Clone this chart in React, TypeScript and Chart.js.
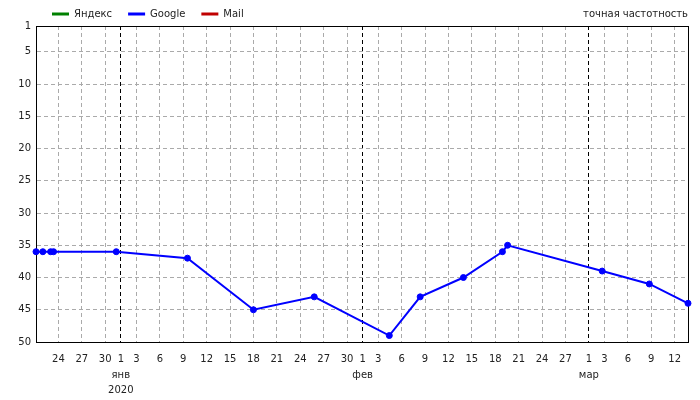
import React, { useEffect, useRef } from "react";
import { Chart, registerables } from "chart.js";

Chart.register(...registerables);

const seriesNames = ["Яндекс", "Google", "Mail"];
const seriesColors = ["#008000", "#0000ff", "#c00000"];

const googleDates = [
  "2019-12-21T03:00",
  "2019-12-22T00:00",
  "2019-12-23T00:00",
  "2019-12-23T09:00",
  "2019-12-31T10:00",
  "2020-01-09T13:00",
  "2020-01-18T00:00",
  "2020-01-25T19:00",
  "2020-02-04T10:00",
  "2020-02-08T09:00",
  "2020-02-13T22:00",
  "2020-02-18T22:00",
  "2020-02-19T14:00",
  "2020-03-02T17:00",
  "2020-03-08T18:00",
  "2020-03-13T17:00",
];
const googleRanks = [36, 36, 36, 36, 36, 37, 45, 43, 49, 43, 40, 36, 35, 39, 41, 44];
const yandexRanks: number[] = [];
const mailRanks: number[] = [];

const yTicks = [1, 5, 10, 15, 20, 25, 30, 35, 40, 45, 50];
const xTickDates = [
  "2019-12-24", "2019-12-27", "2019-12-30",
  "2020-01-01", "2020-01-03", "2020-01-06", "2020-01-09", "2020-01-12", "2020-01-15",
  "2020-01-18", "2020-01-21", "2020-01-24", "2020-01-27", "2020-01-30",
  "2020-02-01", "2020-02-03", "2020-02-06", "2020-02-09", "2020-02-12", "2020-02-15",
  "2020-02-18", "2020-02-21", "2020-02-24", "2020-02-27",
  "2020-03-01", "2020-03-03", "2020-03-06", "2020-03-09", "2020-03-12",
];
const monthNames = ["янв", "фев", "мар", "апр", "май", "июн", "июл", "авг", "сен", "окт", "ноя", "дек"];
const cornerLabel = "точная частотность";

const DAY = 86400000;
const EPOCH = Date.UTC(2020, 0, 1);
const toDay = (s: string) => (Date.parse(s.length > 10 ? s + ":00Z" : s + "T00:00:00Z") - EPOCH) / DAY;

const googleDays = googleDates.map(toDay);
const xTickDays = xTickDates.map(toDay);
const tickLabelMap = new Map<number, string[] | string>();
const monthStartSet = new Set<number>();
xTickDates.forEach((s, i) => {
  const d = new Date(s + "T00:00:00Z");
  const day = d.getUTCDate();
  const key = Math.round(xTickDays[i]);
  if (day === 1) {
    monthStartSet.add(key);
    const lines = [String(day), monthNames[d.getUTCMonth()]];
    if (d.getUTCMonth() === 0) lines.push(String(d.getUTCFullYear()));
    tickLabelMap.set(key, lines);
  } else {
    tickLabelMap.set(key, String(day));
  }
});

const FONT = "DejaVu Sans";

export default function App() {
  const canvasRef = useRef<HTMLCanvasElement | null>(null);

  useEffect(() => {
    document.body.style.margin = "0";
    const canvas = canvasRef.current;
    if (!canvas) return;

    const framePlugin = {
      id: "frameAndCorner",
      afterLayout(chart: any) {
        const lg = chart.legend;
        if (lg) {
          lg.top -= 7;
          lg.bottom -= 7;
        }
      },
      beforeDatasetsDraw(chart: any) {
        const { ctx, chartArea } = chart;
        ctx.save();
        ctx.strokeStyle = "#000";
        ctx.lineWidth = 1;
        ctx.setLineDash([]);
        ctx.strokeRect(
          Math.round(chartArea.left) + 0.5,
          Math.round(chartArea.top) + 0.5,
          Math.round(chartArea.right) - Math.round(chartArea.left),
          Math.round(chartArea.bottom) - Math.round(chartArea.top)
        );
        ctx.restore();
      },
      afterDraw(chart: any) {
        const { ctx, chartArea } = chart;
        ctx.save();
        ctx.font = `10px "${FONT}"`;
        ctx.fillStyle = "#222";
        ctx.textAlign = "right";
        ctx.textBaseline = "middle";
        ctx.fillText(cornerLabel, chartArea.right, 14);
        ctx.restore();
      },
    };

    const seriesData = [
      yandexRanks.map((v, i) => ({ x: googleDays[i], y: v })),
      googleRanks.map((v, i) => ({ x: googleDays[i], y: v })),
      mailRanks.map((v, i) => ({ x: googleDays[i], y: v })),
    ];

    const chart = new Chart(canvas, {
      type: "line",
      data: {
        datasets: seriesNames.map((name, i) => ({
          label: name,
          data: seriesData[i],
          borderColor: seriesColors[i],
          backgroundColor: seriesColors[i],
          borderWidth: 2,
          pointRadius: 3,
          pointBorderWidth: 1,
          pointBackgroundColor: seriesColors[i],
          pointBorderColor: seriesColors[i],
          tension: 0,
          clip: false as any,
        })),
      },
      options: {
        animation: false,
        responsive: true,
        maintainAspectRatio: false,
        layout: { padding: { left: 0, right: 12, top: 0, bottom: 0 } },
        plugins: {
          tooltip: { enabled: false },
          legend: {
            display: true,
            position: "top",
            align: "start",
            fullSize: false,
            maxHeight: 26,
            labels: {
              boxWidth: 17,
              boxHeight: 3,
              padding: 16,
              color: "#222",
              font: { family: FONT, size: 10 },
              generateLabels: (c: any) =>
                Chart.defaults.plugins.legend.labels
                  .generateLabels(c)
                  .map((l: any) => ({ ...l, lineWidth: 0 })),
            },
          },
        },
        scales: {
          x: {
            type: "linear",
            min: googleDays[0],
            max: googleDays[googleDays.length - 1],
            afterBuildTicks: (s: any) => {
              s.ticks = xTickDays.map((v) => ({ value: v }));
            },
            afterFit: (s: any) => {
              s.height = 58;
            },
            ticks: {
              autoSkip: false,
              maxRotation: 0,
              minRotation: 0,
              padding: 10,
              color: "#222",
              font: { family: FONT, size: 10, lineHeight: 1.55 },
              callback: (v: any) => tickLabelMap.get(Math.round(Number(v))) ?? "",
            },
            grid: {
              drawTicks: false,
              lineWidth: 1,
              color: (ctx: any) =>
                ctx.tick && monthStartSet.has(Math.round(ctx.tick.value)) ? "#000" : "#aaaaaa",
            },
            border: { display: true, color: "#000", dash: [4, 3] },
          },
          y: {
            type: "linear",
            reverse: true,
            min: 1,
            max: 50,
            afterBuildTicks: (s: any) => {
              s.ticks = yTicks.map((v) => ({ value: v }));
            },
            afterFit: (s: any) => {
              s.width = 36;
            },
            ticks: {
              padding: 5,
              color: "#222",
              font: { family: FONT, size: 10 },
              callback: (v: any) => String(v),
            },
            grid: { drawTicks: false, lineWidth: 1, color: "#aaaaaa" },
            border: { display: true, color: "#000", dash: [4, 3] },
          },
        },
      } as any,
      plugins: [framePlugin],
    });

    return () => chart.destroy();
  }, []);

  return (
    <div style={{ position: "relative", width: 700, height: 400 }}>
      <canvas ref={canvasRef} />
    </div>
  );
}
